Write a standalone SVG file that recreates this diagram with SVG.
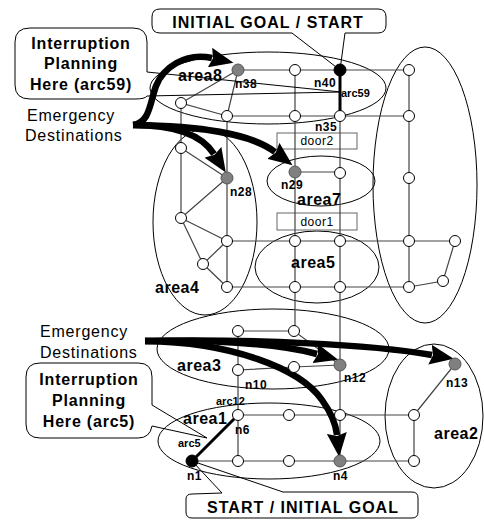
<svg xmlns="http://www.w3.org/2000/svg" width="484" height="520" viewBox="0 0 484 520">
<style>
text{font-family:"Liberation Sans",Arial,sans-serif;fill:#000}
.area{font-size:16px;font-weight:bold;letter-spacing:0.5px}
.nl{font-size:12px;font-weight:bold;letter-spacing:0.5px}
.arc{font-size:11px;font-weight:bold}
.door{font-size:12px;letter-spacing:0.5px}
.big{font-size:16px;font-weight:bold;letter-spacing:1px}
.call{font-size:16px;font-weight:bold;letter-spacing:0.8px}
.em{font-size:16px;letter-spacing:0.8px}
.ell{fill:none;stroke:#000;stroke-width:1}
.e{stroke:#444;stroke-width:1.2;fill:none}
.thin{stroke:#000;stroke-width:1;fill:none}
.n circle{fill:#fff;stroke:#000;stroke-width:1}
.g circle{fill:#808080;stroke:#555;stroke-width:1}
.b circle{fill:#000;stroke:#000;stroke-width:1}
.fat{stroke:#000;stroke-width:6.5;fill:none}
.hv{stroke:#000;stroke-width:3}
</style>
<defs>
<marker id="ah" markerUnits="userSpaceOnUse" markerWidth="26" markerHeight="20" refX="2" refY="10" orient="auto">
<path d="M0,0 L24,10 L0,20 L3,10 Z" fill="#000"/>
</marker>
</defs>

<g id="areas">
<ellipse class="ell" cx="268" cy="88" rx="118" ry="36"/>
<ellipse class="ell" cx="205" cy="222" rx="52" ry="93"/>
<ellipse class="ell" cx="425" cy="185" rx="52" ry="138"/>
<ellipse class="ell" cx="321" cy="181" rx="54" ry="25"/>
<ellipse class="ell" cx="317" cy="267" rx="62" ry="36"/>
<ellipse class="ell" cx="273" cy="349" rx="116" ry="40"/>
<ellipse class="ell" cx="269" cy="441" rx="111" ry="38"/>
<ellipse class="ell" cx="434" cy="416" rx="49" ry="72"/>
</g>

<g id="doors">
<rect x="277" y="133" width="80" height="16" fill="none" stroke="#666" stroke-width="1"/>
<text class="door" x="317" y="145" text-anchor="middle">door2</text>
<rect x="277" y="213" width="80" height="17" fill="none" stroke="#666" stroke-width="1"/>
<text class="door" x="317" y="226" text-anchor="middle">door1</text>
</g>

<g id="connectors">
<path class="e" d="M238,70 H409 M227,116 H409 M238,70 L181,103 L227,116 M238,70 L227,116"/>
<path class="e" d="M181,103 V218 M181,148 L227,178 M227,116 V287 M181,218 L227,178 M181,218 L227,241 M181,218 L203,264 L227,241 M203,264 L227,287"/>
<path class="e" d="M295,70 V331 M340,116 V461 M409,70 V287 M295,172 H340"/>
<path class="e" d="M227,241 H455 M227,287 H409 L443,281 L455,241"/>
<path class="e" d="M238,331 H294 L340,365 M238,331 V461 M238,370 L294,367 L340,365"/>
<path class="e" d="M238,415 H414 V461 M192,461 H414 M414,415 L455,364"/>
<line class="hv" x1="340" y1="70" x2="340" y2="116"/>
<line class="hv" x1="192" y1="461" x2="238" y2="415"/>
</g>

<g id="callouts">
<path class="thin" d="M30,28 H133 Q147,28 147,42 V72 L341,92 L147,96 Q145,99 135,99 H30 Q15,99 15,85 V42 Q15,28 30,28 Z"/>
<path class="thin" d="M40,363 H138 Q152,363 152,377 V405 L207,438 L152,426 Q150,438 138,438 H40 Q26,438 26,424 V377 Q26,363 40,363 Z"/>
<path class="thin" d="M292,33 L340,70 L345,33 H378 Q386,33 386,25 V17 Q386,9 378,9 H160 Q152,9 152,17 V25 Q152,33 160,33 Z"/>
<path class="thin" d="M222,493 L192,461 L283,492 H412 Q418,492 418,498 V512 Q418,518 412,518 H192 Q186,518 186,512 V499 Q186,494 192,494 Z"/>
</g>

<g id="arrows">
<path class="fat" marker-end="url(#ah)" d="M133,125 C150,123 150,102 156,86 C163,68 185,52 212,58"/>
<path class="fat" marker-end="url(#ah)" d="M133,125 C170,125 200,132 214,154"/>
<path class="fat" marker-end="url(#ah)" d="M133,125 C200,126 250,133 275,152"/>
<path class="fat" marker-end="url(#ah)" d="M145,341 C250,339 370,344 432,355"/>
<path class="fat" marker-end="url(#ah)" d="M145,341 C220,340 280,344 317,354"/>
<path class="fat" marker-end="url(#ah)" d="M145,341 C230,342 300,368 322,400 C332,414 336,425 337,435"/>
</g>

<g id="n38" class="g"><circle cx="238" cy="70" r="6"/></g>
<g id="v70_295" class="n"><circle cx="295" cy="70" r="5.5"/></g>
<g id="n40" class="b"><circle cx="340" cy="70" r="6"/></g>
<g id="v70_409" class="n"><circle cx="409" cy="70" r="5.5"/></g>
<g id="v103_181" class="n"><circle cx="181" cy="103" r="5.5"/></g>
<g id="v116_227" class="n"><circle cx="227" cy="116" r="5.5"/></g>
<g id="v116_295" class="n"><circle cx="295" cy="116" r="5.5"/></g>
<g id="n35" class="n"><circle cx="340" cy="116" r="5.5"/></g>
<g id="v116_409" class="n"><circle cx="409" cy="116" r="5.5"/></g>
<g id="v148_181" class="n"><circle cx="181" cy="148" r="5.5"/></g>
<g id="n28" class="g"><circle cx="227" cy="178" r="6"/></g>
<g id="n29" class="g"><circle cx="295" cy="172" r="6"/></g>
<g id="v173_340" class="n"><circle cx="340" cy="173" r="5.5"/></g>
<g id="v178_409" class="n"><circle cx="409" cy="178" r="5.5"/></g>
<g id="v218_181" class="n"><circle cx="181" cy="218" r="5.5"/></g>
<g id="v241_227" class="n"><circle cx="227" cy="241" r="5.5"/></g>
<g id="v264_203" class="n"><circle cx="203" cy="264" r="5.5"/></g>
<g id="v287_227" class="n"><circle cx="227" cy="287" r="5.5"/></g>
<g id="v241_295" class="n"><circle cx="295" cy="241" r="5.5"/></g>
<g id="v241_340" class="n"><circle cx="340" cy="241" r="5.5"/></g>
<g id="v241_409" class="n"><circle cx="409" cy="241" r="5.5"/></g>
<g id="v241_455" class="n"><circle cx="455" cy="241" r="5.5"/></g>
<g id="v287_295" class="n"><circle cx="295" cy="287" r="5.5"/></g>
<g id="v287_340" class="n"><circle cx="340" cy="287" r="5.5"/></g>
<g id="v287_409" class="n"><circle cx="409" cy="287" r="5.5"/></g>
<g id="v281_443" class="n"><circle cx="443" cy="281" r="5.5"/></g>
<g id="v331_238" class="n"><circle cx="238" cy="331" r="5.5"/></g>
<g id="v331_294" class="n"><circle cx="294" cy="331" r="5.5"/></g>
<g id="n10" class="n"><circle cx="238" cy="370" r="5.5"/></g>
<g id="v367_294" class="n"><circle cx="294" cy="367" r="5.5"/></g>
<g id="n12" class="g"><circle cx="340" cy="365" r="6"/></g>
<g id="n13" class="g"><circle cx="455" cy="364" r="6"/></g>
<g id="n6" class="n"><circle cx="238" cy="415" r="5.5"/></g>
<g id="v415_289" class="n"><circle cx="289" cy="415" r="5.5"/></g>
<g id="v415_340" class="n"><circle cx="340" cy="415" r="5.5"/></g>
<g id="v415_414" class="n"><circle cx="414" cy="415" r="5.5"/></g>
<g id="n1" class="b"><circle cx="192" cy="461" r="6"/></g>
<g id="v461_238" class="n"><circle cx="238" cy="461" r="5.5"/></g>
<g id="v461_289" class="n"><circle cx="289" cy="461" r="5.5"/></g>
<g id="n4" class="g"><circle cx="340" cy="461" r="6"/></g>
<g id="v461_414" class="n"><circle cx="414" cy="461" r="5.5"/></g>

<g id="labels">
<text class="area" x="178" y="81">area8</text>
<text class="area" x="297" y="205">area7</text>
<text class="area" x="291" y="268">area5</text>
<text class="area" x="155" y="293">area4</text>
<text class="area" x="177" y="371">area3</text>
<text class="area" x="183" y="424">area1</text>
<text class="area" x="434" y="439">area2</text>
<text class="nl" x="235" y="88">n38</text>
<text class="nl" x="314" y="87">n40</text>
<text class="arc" x="341" y="97">arc59</text>
<text class="nl" x="315" y="131">n35</text>
<text class="nl" x="230" y="196">n28</text>
<text class="nl" x="281" y="189">n29</text>
<text class="nl" x="245" y="389">n10</text>
<text class="arc" x="216" y="405">arc12</text>
<text class="nl" x="235" y="434">n6</text>
<text class="arc" x="178" y="447">arc5</text>
<text class="nl" x="187" y="480">n1</text>
<text class="nl" x="333" y="480">n4</text>
<text class="nl" x="344" y="382">n12</text>
<text class="nl" x="446" y="387">n13</text>
<text class="em" x="27" y="121">Emergency</text>
<text class="em" x="25" y="141">Destinations</text>
<text class="em" x="40" y="337">Emergency</text>
<text class="em" x="40" y="358">Destinations</text>
<text class="call" x="81" y="49" text-anchor="middle">Interruption</text>
<text class="call" x="81" y="69" text-anchor="middle">Planning</text>
<text class="call" x="81" y="90" text-anchor="middle">Here (arc59)</text>
<text class="call" x="89" y="385" text-anchor="middle">Interruption</text>
<text class="call" x="89" y="406" text-anchor="middle">Planning</text>
<text class="call" x="89" y="427" text-anchor="middle">Here (arc5)</text>
<text class="big" x="268" y="28" text-anchor="middle">INITIAL GOAL / START</text>
<text class="big" x="303" y="513" text-anchor="middle">START / INITIAL GOAL</text>
</g>
</svg>
